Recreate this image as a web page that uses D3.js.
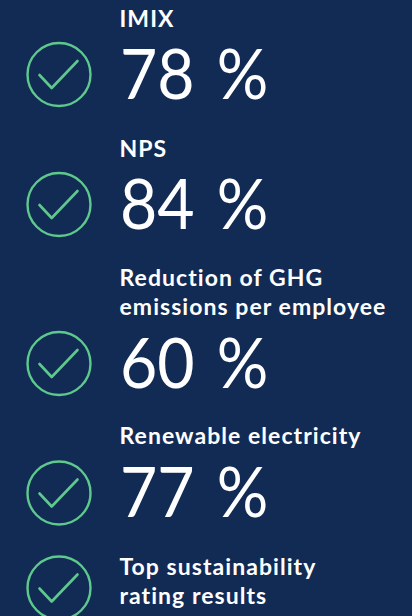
<!DOCTYPE html>
<html>
<head>
<meta charset="utf-8">
<script src="https://cdn.jsdelivr.net/npm/d3@7"></script>
<style>
  html, body { margin: 0; padding: 0; background: #122b54; overflow: hidden; }
  svg { display: block; }
</style>
</head>
<body>
<svg width="412" height="616"></svg>
<script>
// KPI labels and values
const labels = [
  ["IMIX"],
  ["NPS"],
  ["Reduction of GHG", "emissions per employee"],
  ["Renewable electricity"],
  ["Top sustainability", "rating results"],
];
const values = [78, 84, 60, 77, null];

const svg = d3.select("svg");
const font = "Lato, 'Open Sans', sans-serif";
const green = "#5ec98c";

// vertical placement of each row, by row index
const rowY = d3.scaleOrdinal().domain(d3.range(5)).range([74.5, 204.5, 363.5, 493, 588]);
const labelY = d3.scaleOrdinal().domain(d3.range(5)).range([27, 157, 286, 444, 575]);
const valueY = d3.scaleOrdinal().domain(d3.range(5)).range([99, 229, 388, 517, 0]);

const rows = svg.selectAll("g.row")
  .data(labels.map((label, i) => ({ label, value: values[i], i })))
  .enter()
  .append("g")
  .attr("class", "row");

// check circle
rows.append("circle")
  .attr("cx", 59)
  .attr("cy", (d) => rowY(d.i))
  .attr("r", 31.5)
  .attr("fill", "none")
  .attr("stroke", green)
  .attr("stroke-width", 2.4);

// check mark
rows.append("path")
  .attr("transform", (d) => `translate(59,${rowY(d.i)})`)
  .attr("d", "M-19.5,0.5 L-7.3,13.5 L18.5,-13.5")
  .attr("fill", "none")
  .attr("stroke", green)
  .attr("stroke-width", 2.6)
  .attr("stroke-linecap", "round")
  .attr("stroke-linejoin", "round");

// label text
rows.each(function (d) {
  d3.select(this)
    .selectAll("text.label")
    .data(d.label)
    .enter()
    .append("text")
    .attr("class", "label")
    .attr("x", 119.5)
    .attr("y", (t, j) => labelY(d.i) + j * 29)
    .attr("fill", "#fff")
    .attr("font-family", font)
    .attr("font-weight", 700)
    .attr("font-size", 23)
    .attr("letter-spacing", 1.05)
    .text((t) => t);
});

// big value, squeezed a little since Lato digits run wider than the original
rows.filter((d) => d.value !== null)
  .append("text")
  .attr("transform", (d) => `translate(120,${valueY(d.i)}) scale(0.92,1)`)
  .attr("fill", "#fff")
  .attr("font-family", font)
  .attr("font-size", 70)
  .attr("word-spacing", 6)
  .text((d) => `${d.value} %`);
</script>
</body>
</html>
